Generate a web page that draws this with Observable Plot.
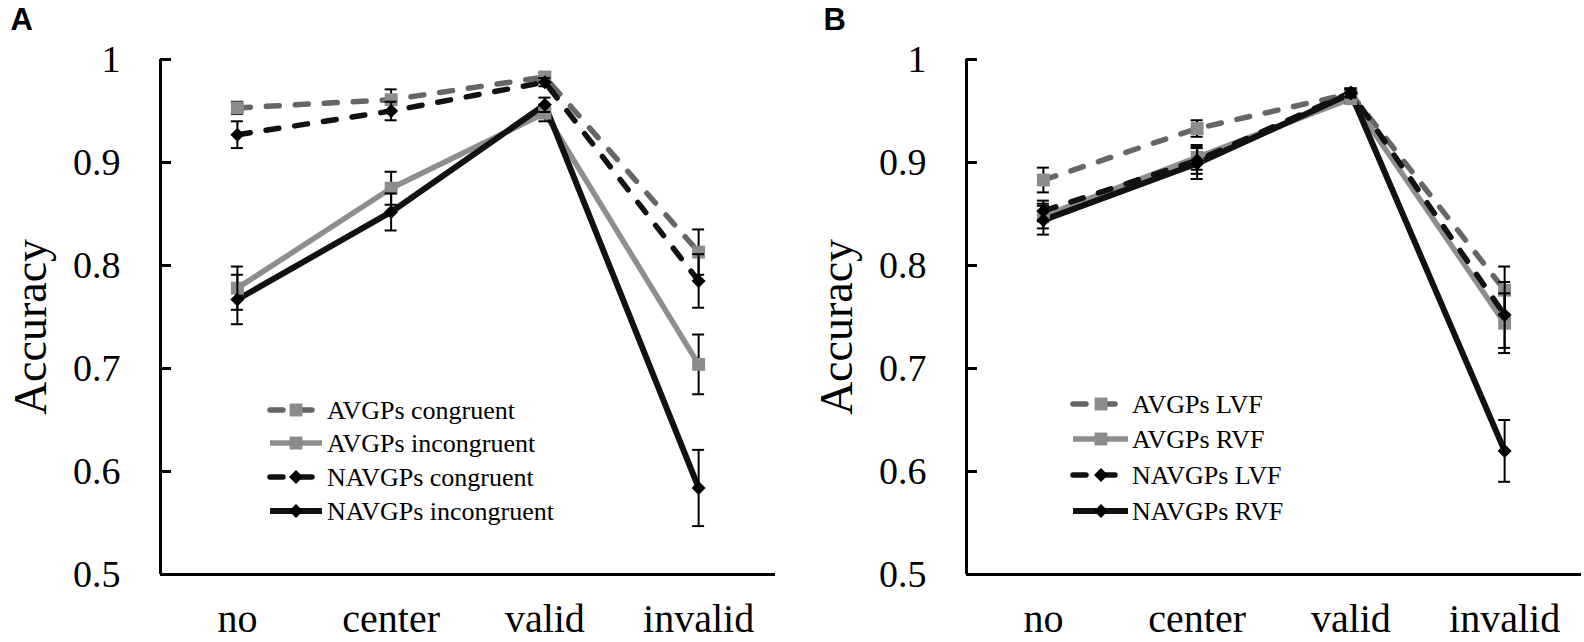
<!DOCTYPE html>
<html>
<head>
<meta charset="utf-8">
<script src="https://cdn.jsdelivr.net/npm/d3@7"></script>
<script src="https://cdn.jsdelivr.net/npm/@observablehq/plot@0.6"></script>
<style>
  html, body { margin: 0; padding: 0; background: #fff; }
  #wrap { position: relative; width: 1584px; height: 642px; display: flex; }
  #legend { position: absolute; left: 0; top: 0; pointer-events: none; }
</style>
</head>
<body>
<div id="wrap"></div>
<script>
// ---------------- data ----------------
const categories = ["no", "center", "valid", "invalid"];
const yTicks = [0.5, 0.6, 0.7, 0.8, 0.9, 1];
const yTickLabels = ["0.5", "0.6", "0.7", "0.8", "0.9", "1"];
const yLabel = "Accuracy";

// Panel A
const seriesA = ["AVGPs congruent", "AVGPs incongruent", "NAVGPs congruent", "NAVGPs incongruent"];
const avgpCongruentA      = [0.953, 0.961, 0.983, 0.813];
const avgpCongruentErrA   = [0.006, 0.010, 0.004, 0.022];
const avgpIncongruentA    = [0.778, 0.875, 0.948, 0.704];
const avgpIncongruentErrA = [0.021, 0.016, 0.008, 0.029];
const navgpCongruentA      = [0.927, 0.950, 0.978, 0.785];
const navgpCongruentErrA   = [0.013, 0.009, 0.004, 0.026];
const navgpIncongruentA    = [0.767, 0.852, 0.956, 0.584];
const navgpIncongruentErrA = [0.024, 0.018, 0.007, 0.037];

// Panel B
const seriesB = ["AVGPs LVF", "AVGPs RVF", "NAVGPs LVF", "NAVGPs RVF"];
const avgpLvfB     = [0.883, 0.933, 0.967, 0.776];
const avgpLvfErrB  = [0.012, 0.008, 0.004, 0.023];
const avgpRvfB     = [0.848, 0.905, 0.962, 0.744];
const avgpRvfErrB  = [0.012, 0.012, 0.004, 0.029];
const navgpLvfB    = [0.853, 0.902, 0.968, 0.752];
const navgpLvfErrB = [0.010, 0.013, 0.004, 0.032];
const navgpRvfB    = [0.844, 0.899, 0.967, 0.620];
const navgpRvfErrB = [0.014, 0.015, 0.004, 0.030];

// ---------------- styles ----------------
const styles = [
  {stroke: "#666666", dash: "13,16", symbol: "square",   fill: "#8c8c8c", width: 5.5, r: 7.3},
  {stroke: "#8e8e8e", dash: null,    symbol: "square",   fill: "#8c8c8c", width: 5.5, r: 7.3},
  {stroke: "#111111", dash: "13,16", symbol: "diamond2", fill: "#000000", width: 5.5, r: 6.3},
  {stroke: "#111111", dash: null,    symbol: "diamond2", fill: "#000000", width: 6,   r: 6.3}
];
const FONT = "'Liberation Serif', 'Times New Roman', Times, serif";

function buildRows(names, values, errs) {
  return names.map((name, s) => categories.map((c, i) => ({
    series: name, cat: c, xi: i + 0.5, value: values[s][i], err: errs[s][i]
  })));
}

const rowsA = buildRows(seriesA,
  [avgpCongruentA, avgpIncongruentA, navgpCongruentA, navgpIncongruentA],
  [avgpCongruentErrA, avgpIncongruentErrA, navgpCongruentErrA, navgpIncongruentErrA]);
const rowsB = buildRows(seriesB,
  [avgpLvfB, avgpRvfB, navgpLvfB, navgpRvfB],
  [avgpLvfErrB, avgpRvfErrB, navgpLvfErrB, navgpRvfErrB]);

const xTicks = categories.map((c, i) => i + 0.5);

function panel(rows, {marginLeft, marginRight, letter, letterDx}) {
  const seriesMarks = [];
  rows.forEach((r, s) => {
    const st = styles[s];
    seriesMarks.push(Plot.line(r, {x: "xi", y: "value", stroke: st.stroke, strokeWidth: st.width,
      strokeDasharray: st.dash || undefined, strokeLinecap: st.dash ? "round" : "butt", strokeLinejoin: "round"}));
  });
  rows.forEach((r, s) => {
    const st = styles[s];
    seriesMarks.push(Plot.ruleX(r, {x: "xi", y1: d => d.value - d.err, y2: d => d.value + d.err, stroke: "#000", strokeWidth: 2}));
    seriesMarks.push(Plot.ruleY(r, {y: d => d.value + d.err, x1: "xi", x2: "xi", insetLeft: -6, insetRight: -6, stroke: "#000", strokeWidth: 2}));
    seriesMarks.push(Plot.ruleY(r, {y: d => d.value - d.err, x1: "xi", x2: "xi", insetLeft: -6, insetRight: -6, stroke: "#000", strokeWidth: 2}));
    seriesMarks.push(Plot.dot(r, {x: "xi", y: "value", symbol: st.symbol, r: st.r, fill: st.fill, stroke: "none"}));
  });
  return Plot.plot({
    width: 792, height: 642,
    marginLeft, marginRight, marginTop: 59, marginBottom: 68,
    x: {domain: [0, 4], axis: null},
    y: {domain: [0.5, 1], axis: null},
    style: {fontFamily: FONT, background: "white", color: "black", overflow: "visible"},
    marks: [
      ...seriesMarks,
      Plot.ruleY([0.5], {strokeWidth: 3, stroke: "#000"}),
      Plot.ruleX([0], {y1: 0.5, y2: 1, strokeWidth: 3, stroke: "#000"}),
      Plot.axisY({ticks: yTicks, tickSize: -11, tickFormat: () => "", strokeWidth: 3, label: null}),
      Plot.axisY({ticks: yTicks, tickSize: 0, tickPadding: 40, fontSize: 38,
        tickFormat: d => yTickLabels[yTicks.indexOf(d)], label: null}),
      Plot.axisX({ticks: xTicks, tickSize: 0, tickPadding: 29, fontSize: 40,
        tickFormat: d => categories[Math.floor(d)], label: null}),
      Plot.text([yLabel], {x: null, y: null, text: d => d, frameAnchor: "left", rotate: -90,
        dx: -115, dy: 10, lineAnchor: "bottom", textAnchor: "middle", fontSize: 46}),
      Plot.text([letter], {x: null, y: null, text: d => d, frameAnchor: "top-left",
        dx: letterDx, dy: -30, lineAnchor: "bottom", textAnchor: "start", fontSize: 31,
        fontWeight: "bold", fontFamily: "'Liberation Sans', Arial, sans-serif"})
    ]
  });
}

const wrap = document.getElementById("wrap");
wrap.appendChild(panel(rowsA, {marginLeft: 160, marginRight: 17, letter: "A", letterDx: -150}));
wrap.appendChild(panel(rowsB, {marginLeft: 174, marginRight: 3, letter: "B", letterDx: -143}));

// ---------------- legends ----------------
const legendA = {names: seriesA, x0: 270, x1: 322, xm: 296, xt: 327, ys: [410, 443, 477, 511]};
const legendB = {names: seriesB, x0: 1073, x1: 1128, xm: 1101, xt: 1132, ys: [404, 439, 475, 511]};

const svg = d3.select(wrap).append("svg")
  .attr("id", "legend").attr("width", 1584).attr("height", 642);

[legendA, legendB].forEach(L => {
  L.names.forEach((name, s) => {
    const st = styles[s];
    const y = L.ys[s];
    svg.append("line")
      .attr("x1", L.x0).attr("x2", L.x1).attr("y1", y).attr("y2", y)
      .attr("stroke", st.stroke).attr("stroke-width", st.width)
      .attr("stroke-dasharray", st.dash)
      .attr("stroke-linecap", st.dash ? "round" : "butt");
    const size = st.r * st.r * Math.PI;
    const sym = st.symbol === "square" ? d3.symbolSquare : d3.symbolDiamond2;
    svg.append("path")
      .attr("d", d3.symbol(sym, size)())
      .attr("transform", `translate(${L.xm},${y})`)
      .attr("fill", st.fill);
    svg.append("text")
      .attr("x", L.xt).attr("y", y + 9)
      .attr("font-family", FONT).attr("font-size", 26)
      .attr("fill", "#000")
      .text(name);
  });
});
</script>
</body>
</html>
